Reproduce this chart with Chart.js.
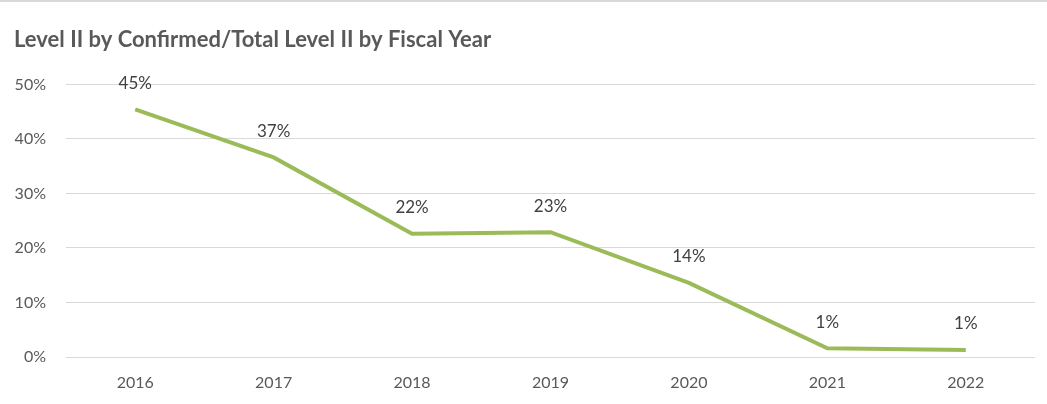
<!DOCTYPE html>
<html>
<head>
<meta charset="utf-8">
<script src="https://cdn.jsdelivr.net/npm/chart.js@4"></script>
<style>
  html, body { margin: 0; padding: 0; background: #fff; }
  #wrap { width: 1047px; height: 404px; position: relative; box-sizing: border-box; border-top: 2px solid #d9d9d9; }
</style>
</head>
<body>
<div id="wrap"><canvas id="chart"></canvas></div>
<script>
const years = ['2016', '2017', '2018', '2019', '2020', '2021', '2022'];
const shareValues = [45.4, 36.6, 22.6, 22.9, 13.6, 1.6, 1.3];
const shareLabels = ['45%', '37%', '22%', '23%', '14%', '1%', '1%'];
const yTicks = [0, 10, 20, 30, 40, 50];

const FONT = 'Lato, "Open Sans", sans-serif';

// labels above each point
const pointLabels = {
  id: 'pointLabels',
  afterDatasetsDraw(chart) {
    const ctx = chart.ctx;
    const meta = chart.getDatasetMeta(0);
    ctx.save();
    ctx.font = '17px ' + FONT;
    ctx.fillStyle = '#404040';
    ctx.textAlign = 'center';
    ctx.textBaseline = 'middle';
    meta.data.forEach((pt, i) => {
      ctx.fillText(shareLabels[i], pt.x, pt.y - 26);
    });
    ctx.restore();
  }
};

new Chart(document.getElementById('chart'), {
  type: 'line',
  data: {
    labels: years,
    datasets: [{
      data: shareValues,
      borderColor: '#9BBB59',
      borderWidth: 4,
      pointRadius: 0,
      tension: 0,
      fill: false
    }]
  },
  options: {
    responsive: true,
    maintainAspectRatio: false,
    animation: false,
    layout: { padding: { left: 14, right: 12, top: 0, bottom: 0 } },
    plugins: {
      legend: { display: false },
      tooltip: { enabled: false },
      title: {
        display: true,
        text: 'Level II by Confirmed/Total Level II by Fiscal Year',
        align: 'start',
        color: '#595959',
        font: { family: FONT, size: 22, weight: 'bold', lineHeight: 1.2 },
        padding: { top: 25, bottom: 31 }
      }
    },
    scales: {
      x: {
        offset: true,
        afterFit(scale) { scale.height = scale.chart.height - 355; },
        grid: { display: false, drawTicks: false },
        border: { display: false },
        ticks: { color: '#595959', font: { family: FONT, size: 16 }, padding: 16 }
      },
      y: {
        min: 0,
        max: 50,
        afterBuildTicks(scale) { scale.ticks = yTicks.map(v => ({ value: v })); },
        afterFit(scale) { scale.width = 52; },
        grid: { color: '#d9d9d9', lineWidth: 1, drawTicks: false },
        border: { display: false },
        ticks: {
          color: '#595959',
          font: { family: FONT, size: 16 },
          padding: 20,
          callback: v => v + '%'
        }
      }
    }
  },
  plugins: [pointLabels]
});
</script>
</body>
</html>
